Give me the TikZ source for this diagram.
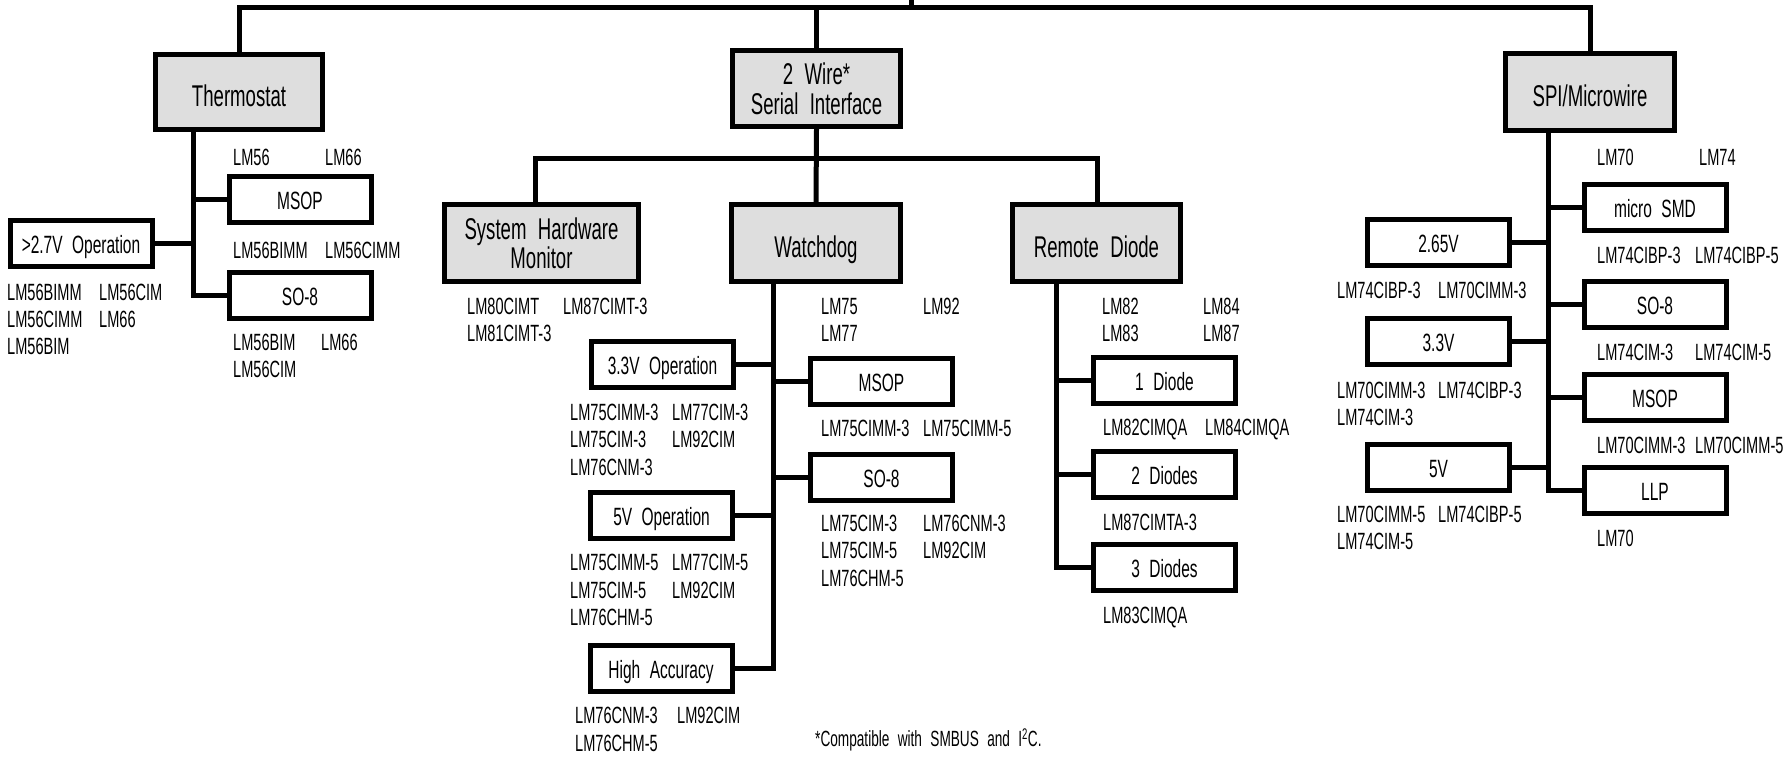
\documentclass[tikz,border=0pt]{standalone}
\usepackage{fontspec}
\setmainfont{Liberation Sans}[FakeStretch=0.62, WordSpace=2.2]
\begin{document}
\begin{tikzpicture}[x=1pt, y=-1pt,
  conn/.style={line width=5pt},
  gbox/.style={draw, line width=5pt, fill=black!13, inner sep=0pt, align=center,
    font=\fontsize{30}{30}\selectfont},
  one/.style={text height=28.5pt, text depth=0pt},
  wbox/.style={draw, line width=5pt, fill=white, inner sep=0pt,
    minimum width=142pt, minimum height=46pt, text height=20pt, text depth=0pt,
    font=\fontsize{25}{25}\selectfont},
  lab/.style={anchor=base west, inner sep=0pt, yshift=-8.4pt,
    font=\fontsize{23.5}{24}\selectfont},
  foot/.style={anchor=west, inner sep=0pt, font=\fontsize{22}{22}\selectfont}]
\useasboundingbox (0,0) rectangle (1791,757);

% ---- main boxes
\node[gbox, one, minimum width=167pt, minimum height=75pt] (thermo) at (239,92) {Thermostat};
\node[gbox, minimum width=168pt, minimum height=76pt] (twowire) at (816.5,88.5) {2 Wire*\\Serial Interface};
\node[gbox, one, minimum width=169pt, minimum height=77pt] (spi) at (1590,92) {SPI/Microwire};
\node[gbox, minimum width=194pt, minimum height=77pt, font=\fontsize{30}{29}\selectfont] (shm) at (541.5,243) {System Hardware\\Monitor};
\node[gbox, one, minimum width=169pt, minimum height=77pt] (watchdog) at (816,243) {Watchdog};
\node[gbox, one, minimum width=168pt, minimum height=77pt] (remote) at (1096.5,243) {Remote Diode};

% ---- thermostat sub boxes
\node[wbox] (tmsop) at (300,199) {MSOP};
\node[wbox] (top) at (81,243.5) {>2.7V Operation};
\node[wbox] (tso) at (300,295.5) {SO-8};

% ---- watchdog sub boxes
\node[wbox] (w33) at (662.5,364) {3.3V Operation};
\node[wbox] (wmsop) at (881.5,381) {MSOP};
\node[wbox] (wso) at (881.5,477.5) {SO-8};
\node[wbox] (w5) at (661.5,515.5) {5V Operation};
\node[wbox] (wha) at (661,668.5) {High Accuracy};

% ---- remote diode sub boxes
\node[wbox] (r1) at (1164.5,380) {1 Diode};
\node[wbox] (r2) at (1164.5,474.5) {2 Diodes};
\node[wbox] (r3) at (1164.5,567.5) {3 Diodes};

% ---- spi sub boxes
\node[wbox] (ssmd) at (1655,207) {micro SMD};
\node[wbox] (s265) at (1438.5,242.5) {2.65V};
\node[wbox] (sso) at (1655,304.5) {SO-8};
\node[wbox] (s33) at (1438.5,341.5) {3.3V};
\node[wbox] (smsop) at (1655,397.5) {MSOP};
\node[wbox] (s5) at (1438.5,467) {5V};
\node[wbox] (sllp) at (1655,490.5) {LLP};

% ---- connectors
\coordinate (rootup) at (911,0);
\coordinate (top0) at (911,7.5);
\draw[conn] (rootup) -- (top0);
\draw[conn] (thermo.north) |- (top0) -| (spi.north);
\draw[conn] (twowire.north) -- (twowire.north |- top0);

\coordinate (tk) at (193,295.5);
\draw[conn] (thermo.south -| tk) |- (tso.west);
\draw[conn] (tmsop.west) -- (tmsop.west -| tk);
\draw[conn] (top.east) -- (top.east -| tk);

\coordinate (bL) at (535,159);
\coordinate (bR) at (1097,159);
\draw[conn] (twowire.south) -- (watchdog.north);
\draw[conn] (shm.north -| bL) -- (bL) -- (bR) -- (remote.north -| bR);

\coordinate (wk) at (773,668.5);
\draw[conn] (watchdog.south -| wk) |- (wha.east);
\draw[conn] (w33.east) -- (w33.east -| wk);
\draw[conn] (w5.east) -- (w5.east -| wk);
\draw[conn] (wmsop.west) -- (wmsop.west -| wk);
\draw[conn] (wso.west) -- (wso.west -| wk);

\coordinate (rk) at (1056,567.5);
\draw[conn] (remote.south -| rk) |- (r3.west);
\draw[conn] (r1.west) -- (r1.west -| rk);
\draw[conn] (r2.west) -- (r2.west -| rk);

\coordinate (sk) at (1548,490.5);
\draw[conn] (spi.south -| sk) |- (sllp.west);
\draw[conn] (ssmd.west) -- (ssmd.west -| sk);
\draw[conn] (sso.west) -- (sso.west -| sk);
\draw[conn] (smsop.west) -- (smsop.west -| sk);
\draw[conn] (s265.east) -- (s265.east -| sk);
\draw[conn] (s33.east) -- (s33.east -| sk);
\draw[conn] (s5.east) -- (s5.east -| sk);

% ---- labels: thermostat
\node[lab] (a1) at (233,157) {LM56};
\node[lab] (a2) at (325,157) {LM66};
\node[lab] (a3) at (233,250) {LM56BIMM};
\node[lab] (a4) at (325,250) {LM56CIMM};
\node[lab] (a5) at (233,342) {LM56BIM};
\node[lab] (a6) at (321,342) {LM66};
\node[lab] (a7) at (233,369) {LM56CIM};
\node[lab] (a8) at (7,292) {LM56BIMM};
\node[lab] (a9) at (99,292) {LM56CIM};
\node[lab] (a10) at (7,319) {LM56CIMM};
\node[lab] (a11) at (99,319) {LM66};
\node[lab] (a12) at (7,346) {LM56BIM};

% ---- labels: 2 wire
\node[lab] (b1) at (467,306) {LM80CIMT};
\node[lab] (b2) at (563,306) {LM87CIMT-3};
\node[lab] (b3) at (467,333) {LM81CIMT-3};
\node[lab] (b4) at (821,306) {LM75};
\node[lab] (b5) at (923,306) {LM92};
\node[lab] (b6) at (821,333) {LM77};
\node[lab] (b7) at (570,412) {LM75CIMM-3};
\node[lab] (b8) at (672,412) {LM77CIM-3};
\node[lab] (b9) at (570,439) {LM75CIM-3};
\node[lab] (b10) at (672,439) {LM92CIM};
\node[lab] (b11) at (570,467) {LM76CNM-3};
\node[lab] (b12) at (821,428) {LM75CIMM-3};
\node[lab] (b13) at (923,428) {LM75CIMM-5};
\node[lab] (b14) at (821,523) {LM75CIM-3};
\node[lab] (b15) at (923,523) {LM76CNM-3};
\node[lab] (b16) at (821,550) {LM75CIM-5};
\node[lab] (b17) at (923,550) {LM92CIM};
\node[lab] (b18) at (821,578) {LM76CHM-5};
\node[lab] (b19) at (570,562) {LM75CIMM-5};
\node[lab] (b20) at (672,562) {LM77CIM-5};
\node[lab] (b21) at (570,590) {LM75CIM-5};
\node[lab] (b22) at (672,590) {LM92CIM};
\node[lab] (b23) at (570,617) {LM76CHM-5};
\node[lab] (b24) at (575,715) {LM76CNM-3};
\node[lab] (b25) at (677,715) {LM92CIM};
\node[lab] (b26) at (575,743) {LM76CHM-5};

% ---- labels: remote diode
\node[lab] (c1) at (1102,306) {LM82};
\node[lab] (c2) at (1203,306) {LM84};
\node[lab] (c3) at (1102,333) {LM83};
\node[lab] (c4) at (1203,333) {LM87};
\node[lab] (c5) at (1103,427) {LM82CIMQA};
\node[lab] (c6) at (1205,427) {LM84CIMQA};
\node[lab] (c7) at (1103,522) {LM87CIMTA-3};
\node[lab] (c8) at (1103,615) {LM83CIMQA};

% ---- labels: spi
\node[lab] (d1) at (1597,157) {LM70};
\node[lab] (d2) at (1699,157) {LM74};
\node[lab] (d3) at (1597,255) {LM74CIBP-3};
\node[lab] (d4) at (1695,255) {LM74CIBP-5};
\node[lab] (d5) at (1337,290) {LM74CIBP-3};
\node[lab] (d6) at (1438,290) {LM70CIMM-3};
\node[lab] (d7) at (1597,352) {LM74CIM-3};
\node[lab] (d8) at (1695,352) {LM74CIM-5};
\node[lab] (d9) at (1337,390) {LM70CIMM-3};
\node[lab] (d10) at (1438,390) {LM74CIBP-3};
\node[lab] (d11) at (1337,417) {LM74CIM-3};
\node[lab] (d12) at (1597,445) {LM70CIMM-3};
\node[lab] (d13) at (1695,445) {LM70CIMM-5};
\node[lab] (d14) at (1337,514) {LM70CIMM-5};
\node[lab] (d15) at (1438,514) {LM74CIBP-5};
\node[lab] (d16) at (1337,541) {LM74CIM-5};
\node[lab] (d17) at (1597,538) {LM70};

% ---- footnote
\node[foot] (fn) at (815,740) {*Compatible with SMBUS and I\textsuperscript{2}C.};
\end{tikzpicture}
\end{document}
